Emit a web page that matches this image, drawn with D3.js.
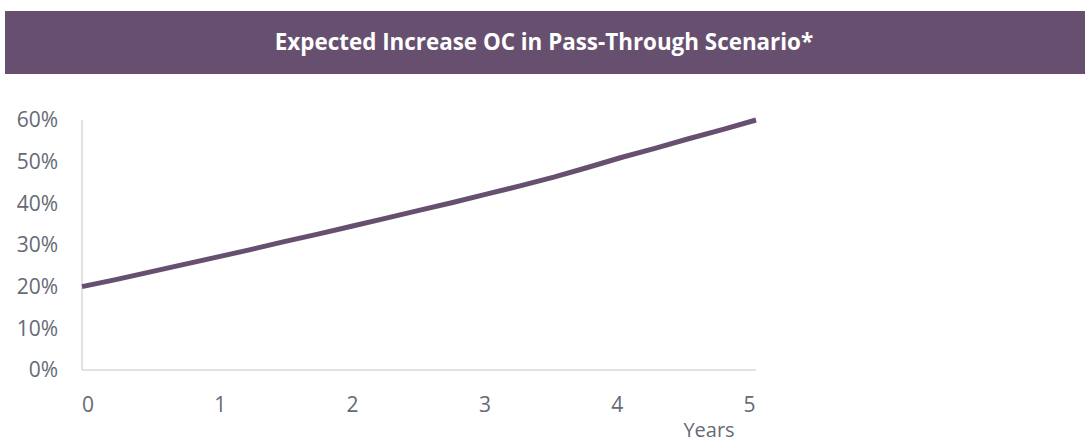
<!DOCTYPE html>
<html>
<head>
<meta charset="utf-8">
<script src="https://cdn.jsdelivr.net/npm/d3@7"></script>
<style>
  html, body { margin: 0; padding: 0; background: #fff; }
  svg { display: block; }
</style>
</head>
<body>
<svg id="chart" width="1085" height="443"></svg>
<script>
const title = "Expected Increase OC in Pass-Through Scenario*";
const xLabel = "Years";
const years = [0, 0.25, 0.5, 0.75, 1, 1.25, 1.5, 1.75, 2, 2.25, 2.5, 2.75, 3, 3.25, 3.5, 3.75, 4, 4.25, 4.5, 4.75, 5];
const ocIncrease = [0.200, 0.217, 0.235, 0.253, 0.271, 0.289, 0.308, 0.326, 0.345, 0.364, 0.383, 0.402, 0.422, 0.442, 0.463, 0.486, 0.510, 0.532, 0.555, 0.577, 0.600];
const xTicks = [0, 1, 2, 3, 4, 5];
const yTicks = [0, 0.1, 0.2, 0.3, 0.4, 0.5, 0.6];

const svg = d3.select("#chart");
const purple = "#67506f";
const textGray = "#666a75";
const font = "'Open Sans', 'Noto Sans', sans-serif";

// title banner
svg.append("rect").attr("x", 5).attr("y", 11).attr("width", 1080).attr("height", 63).attr("fill", purple);
svg.append("text").attr("x", 544).attr("y", 42).attr("dy", "0.35em")
  .attr("text-anchor", "middle").attr("fill", "#fff")
  .attr("font-family", font).attr("font-weight", 700).attr("font-size", 22.4)
  .text(title);

const x = d3.scaleLinear().domain([0, 5]).range([82, 756]);
const xLab = d3.scaleLinear().domain([0, 5]).range([88, 749.5]);
const y = d3.scaleLinear().domain([0, 0.6]).range([370, 120]);

// axes lines
svg.append("line").attr("x1", x(0)).attr("x2", x(0)).attr("y1", y(0.6)).attr("y2", y(0))
  .attr("stroke", "#d9d9d9").attr("stroke-width", 1.5);
svg.append("line").attr("x1", x(0)).attr("x2", x(5)).attr("y1", y(0)).attr("y2", y(0))
  .attr("stroke", "#d9d9d9").attr("stroke-width", 1.5);

// y labels
svg.append("g").selectAll("text").data(yTicks).join("text")
  .attr("x", 58).attr("y", d => y(d)).attr("dy", "0.35em")
  .attr("text-anchor", "end").attr("fill", textGray)
  .attr("font-family", font).attr("font-size", 21)
  .text(d3.format(".0%"));

// x labels
svg.append("g").selectAll("text").data(xTicks).join("text")
  .attr("x", d => xLab(d)).attr("y", 404.5).attr("dy", "0.35em")
  .attr("text-anchor", "middle").attr("fill", textGray)
  .attr("font-family", font).attr("font-size", 21)
  .text(d => d);

svg.append("text").attr("x", 709).attr("y", 437)
  .attr("text-anchor", "middle").attr("fill", textGray)
  .attr("font-family", font).attr("font-size", 20)
  .text(xLabel);

// line
const line = d3.line().x((d, i) => x(years[i])).y(d => y(d));
svg.append("path").datum(ocIncrease)
  .attr("d", line).attr("fill", "none")
  .attr("stroke", purple).attr("stroke-width", 5)
  .attr("stroke-linejoin", "round");
</script>
</body>
</html>
